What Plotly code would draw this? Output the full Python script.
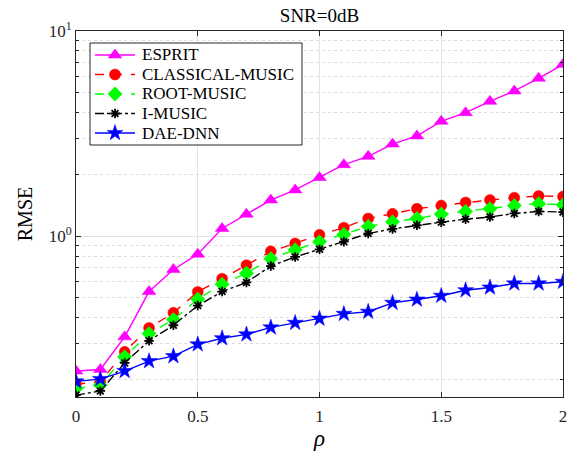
import plotly.graph_objects as go

rho = [0.0, 0.1, 0.2, 0.3, 0.4, 0.5, 0.6, 0.7, 0.8, 0.9, 1.0,
       1.1, 1.2, 1.3, 1.4, 1.5, 1.6, 1.7, 1.8, 1.9, 2.0]

esprit = [0.220, 0.224, 0.323, 0.537, 0.688, 0.817, 1.09, 1.28, 1.50, 1.68, 1.93,
          2.23, 2.45, 2.81, 3.08, 3.63, 4.00, 4.54, 5.10, 5.88, 6.88]
classical_music = [0.190, 0.195, 0.273, 0.357, 0.423, 0.535, 0.620, 0.722, 0.843, 0.922, 1.015,
                   1.10, 1.22, 1.285, 1.36, 1.41, 1.46, 1.50, 1.54, 1.57, 1.56]
root_music = [0.181, 0.188, 0.258, 0.335, 0.392, 0.493, 0.583, 0.660, 0.777, 0.858, 0.938,
              1.02, 1.115, 1.175, 1.22, 1.28, 1.32, 1.36, 1.41, 1.44, 1.42]
i_music = [0.168, 0.176, 0.241, 0.309, 0.368, 0.459, 0.537, 0.595, 0.715, 0.792, 0.863,
           0.94, 1.03, 1.085, 1.13, 1.17, 1.21, 1.24, 1.29, 1.32, 1.31]
dae_dnn = [0.196, 0.201, 0.220, 0.246, 0.260, 0.297, 0.318, 0.332, 0.359, 0.378, 0.396,
           0.418, 0.428, 0.473, 0.491, 0.512, 0.545, 0.562, 0.588, 0.588, 0.599]

series_names = ["ESPRIT", "CLASSICAL-MUSIC", "ROOT-MUSIC", "I-MUSIC", "DAE-DNN"]
series_values = [esprit, classical_music, root_music, i_music, dae_dnn]

# styles
colors = ["#ff00ff", "#ff0000", "#00ff00", "#000000", "#0000ff"]
dashes = ["solid", "dash", "dash", "dashdot", "solid"]
symbols = ["triangle-up", "circle", "diamond", "asterisk-open", "star"]
sizes = [12, 11, 11, 8, 12]

W, H = 581, 459
ML, MR, MT, MB = 76, 18, 31, 62
PW, PH = W - ML - MR, H - MT - MB
font_family = "Liberation Serif"
axis_color = "#262626"


def dx(xp):
    """pixel x -> fraction of plot-area width"""
    return (xp - ML) / PW


def dy(yp):
    """pixel y -> fraction of plot-area height"""
    return (H - MB - yp) / PH


def marker_for(i):
    m = dict(symbol=symbols[i], size=sizes[i], color=colors[i])
    if symbols[i] == "asterisk-open":
        m["line"] = dict(color=colors[i], width=1.8)
    else:
        m["line"] = dict(color=colors[i], width=0.5)
    return m


fig = go.Figure()
for i, (name, vals) in enumerate(zip(series_names, series_values)):
    fig.add_trace(go.Scatter(
        x=rho, y=vals, name=name, mode="lines+markers",
        line=dict(color=colors[i], width=1.4, dash=dashes[i]),
        marker=marker_for(i), showlegend=False,
    ))

# custom legend, drawn on an overlay axis whose coordinates are plot-area fractions
leg_box = (90, 43, 302, 145)
leg_line = (95, 135)
leg_text_x = 140
leg_rows = [55, 74.5, 94, 113.5, 133]

bx0, bx1 = dx(leg_box[0]), dx(leg_box[2])
by0, by1 = dy(leg_box[1]), dy(leg_box[3])
fig.add_trace(go.Scatter(
    x=[bx0, bx1, bx1, bx0, bx0], y=[by0, by0, by1, by1, by0], xaxis="x2", yaxis="y2",
    mode="lines", fill="toself", fillcolor="white",
    line=dict(color=axis_color, width=1), showlegend=False, hoverinfo="skip",
))
for i, name in enumerate(series_names):
    yy = dy(leg_rows[i])
    fig.add_trace(go.Scatter(
        x=[dx(leg_line[0]), dx(leg_line[1])], y=[yy, yy], xaxis="x2", yaxis="y2",
        mode="lines", line=dict(color=colors[i], width=1.4, dash=dashes[i]),
        showlegend=False, hoverinfo="skip",
    ))
    fig.add_trace(go.Scatter(
        x=[dx((leg_line[0] + leg_line[1]) / 2)], y=[yy], xaxis="x2", yaxis="y2",
        mode="markers", marker=marker_for(i), showlegend=False, hoverinfo="skip",
    ))
    fig.add_annotation(x=dx(leg_text_x), y=yy, xref="x domain", yref="y domain",
                       text=name, showarrow=False, xanchor="left", yanchor="middle",
                       font=dict(family=font_family, size=17, color="#000000"))

minor_vals = [0.2, 0.3, 0.4, 0.5, 0.6, 0.7, 0.8, 0.9,
              2, 3, 4, 5, 6, 7, 8, 9]

fig.update_layout(
    width=W, height=H,
    margin=dict(l=ML, r=MR, t=MT, b=MB),
    paper_bgcolor="white", plot_bgcolor="white",
    font=dict(family=font_family, size=17, color=axis_color),
    title=dict(text="SNR=0dB", x=(ML + W - MR) / 2 / W, xanchor="center",
               y=1 - 15 / H, yanchor="middle",
               font=dict(family=font_family, size=19, color="#000000")),
    showlegend=False,
    xaxis=dict(
        range=[0, 2], tickvals=[0, 0.5, 1, 1.5, 2], ticktext=["0", "0.5", "1", "1.5", "2"],
        ticks="inside", ticklen=5, tickcolor=axis_color,
        showline=True, linecolor=axis_color, linewidth=1, mirror="ticks",
        showgrid=True, gridcolor="#e3e3e3", gridwidth=1,
        zeroline=False, ticklabelstandoff=4,
        title=dict(text="<i>ρ</i>", font=dict(family=font_family, size=23, color="#000000"), standoff=4),
        tickfont=dict(family=font_family, size=17, color=axis_color),
    ),
    yaxis=dict(
        type="log", range=[-0.784, 1],
        tickvals=[1, 10], ticktext=["10<sup>0</sup>", "10<sup>1</sup>"],
        ticks="inside", ticklen=5, tickcolor=axis_color,
        showline=True, linecolor=axis_color, linewidth=1, mirror="ticks",
        showgrid=True, gridcolor="#e3e3e3", gridwidth=1,
        zeroline=False,
        minor=dict(tickvals=minor_vals, ticks="inside", ticklen=3, tickcolor=axis_color,
                   showgrid=True, gridcolor="#dcdcdc", griddash="dot", gridwidth=1),
        title=dict(text="RMSE", font=dict(family=font_family, size=20, color="#000000"), standoff=10),
        tickfont=dict(family=font_family, size=17, color=axis_color),
    ),
    xaxis2=dict(overlaying="x", range=[0, 1], visible=False,
                showgrid=False, zeroline=False, fixedrange=True),
    yaxis2=dict(overlaying="y", range=[0, 1], visible=False,
                showgrid=False, zeroline=False, fixedrange=True),
)

fig.write_html("out.html")
